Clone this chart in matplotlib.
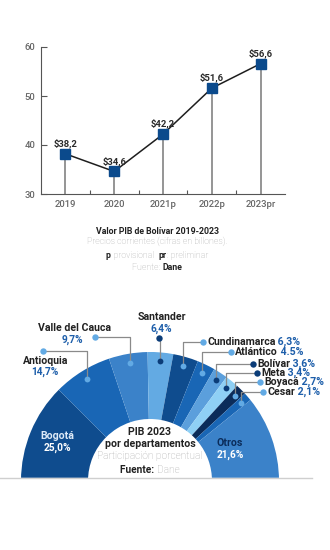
import matplotlib
matplotlib.use("Agg")
import matplotlib.pyplot as plt
import numpy as np

plt.rcParams['font.family'] = ['Roboto', 'DejaVu Sans']

# ---------------- data ----------------
years = ["2019", "2020", "2021p", "2022p", "2023pr"]
pib = [38.2, 34.6, 42.2, 51.6, 56.6]
pib_labels = ["$38,2", "$34,6", "$42,2", "$51,6", "$56,6"]

depts = ["Bogotá", "Antioquia", "Valle del Cauca", "Santander", "Cundinamarca",
         "Atlántico", "Bolívar", "Meta", "Boyacá", "Cesar", "Otros"]
shares = [25.0, 14.7, 9.7, 6.4, 6.3, 4.5, 3.6, 3.4, 2.7, 2.1, 21.6]
share_labels = ["25,0%", "14,7%", "9,7%", "6,4%", "6,3%", "4.5%", "3,6%",
                "3,4%", "2,7%", "2,1%", "21,6%"]

slice_colors = ['#0f4c8e', '#1966b5', '#3b82c9', '#63aae3', '#0f4c8e', '#1966b5',
                '#5b9fdc', '#8fd0f5', '#0b2c5a', '#1966b5', '#3b82c9']
LIGHT_DOT = '#62aae4'
DARK_DOT = '#0b3c78'
dot_colors = [None, LIGHT_DOT, LIGHT_DOT, DARK_DOT, LIGHT_DOT, LIGHT_DOT,
              DARK_DOT, DARK_DOT, LIGHT_DOT, LIGHT_DOT, None]

W, H = 330, 550
fig = plt.figure(figsize=(W / 100, H / 100), dpi=100)
fig.patch.set_facecolor('white')

# ---------------- line chart ----------------
ax = fig.add_axes([41 / W, (H - 194) / H, (285 - 41) / W, (194 - 47) / H])
x = np.arange(len(years))
ax.vlines(x, 30, pib, color='#8c8c8c', lw=1.3, zorder=1)
ax.plot(x, pib, color='#1e1e1e', lw=1.1, zorder=2)
ax.plot(x, pib, 's', ms=7.5, color='#0b4a8c', zorder=3)
for xi, v, lab in zip(x, pib, pib_labels):
    ax.annotate(lab, (xi, v), xytext=(0, 7.5), textcoords='offset points',
                ha='center', va='center', fontsize=6.8, fontweight='bold',
                color='#2a2a2a')
ax.set_xlim(-0.5, 4.5)
ax.set_ylim(30, 60)
ax.set_yticks([30, 40, 50, 60])
ax.set_xticks(x)
ax.set_xticklabels(years)
ax.set_xticks(np.arange(0.5, 4.0, 1.0), minor=True)
ax.tick_params(axis='y', direction='in', length=4, width=0.8, color='#555',
               labelsize=6.8, labelcolor='#666', pad=4)
ax.tick_params(axis='x', which='major', length=0, labelsize=6.8,
               labelcolor='#666', pad=4)
ax.tick_params(axis='x', which='minor', direction='in', length=3, width=0.8,
               color='#555')
for lab in ax.get_xticklabels() + ax.get_yticklabels():
    lab.set_fontweight('medium')
for s in ['top', 'right']:
    ax.spines[s].set_visible(False)
for s in ['left', 'bottom']:
    ax.spines[s].set_color('#555')
    ax.spines[s].set_linewidth(0.8)

# ---------------- overlay (pixel coords, y up) ----------------
ov = fig.add_axes([0, 0, 1, 1])
ov.set_zorder(5)


def P(y):
    return H - y


cx, cy = 150, 481
R, w = 129, 67
wedges, _ = ov.pie(shares + [sum(shares)], radius=R, center=(cx, P(cy)),
                   startangle=180, counterclock=False,
                   colors=slice_colors + ['none'],
                   wedgeprops=dict(width=w, edgecolor='none', linewidth=0))
wedges[-1].set_visible(False)
ov.set_xlim(0, W)
ov.set_ylim(0, H)
ov.set_aspect('auto')
ov.axis('off')

# cut the bottom of the donut
ov.add_patch(plt.Rectangle((0, 0), W, P(478), color='white', zorder=3))
ov.plot([0, 312], [P(478), P(478)], color='#cfcfcf', lw=1, zorder=4)

fig.canvas.draw()
renderer = fig.canvas.get_renderer()


def text_width(t, size, wgt):
    a = ov.text(0, 0, "x" + t + "x", fontsize=size, fontweight=wgt)
    b = ov.text(0, 0, "xx", fontsize=size, fontweight=wgt)
    wa = a.get_window_extent(renderer=renderer).width
    wb = b.get_window_extent(renderer=renderer).width
    a.remove()
    b.remove()
    return wa - wb


def pieces(xc, y, parts, size, ha='center'):
    """parts: list of (text, weight, color). Draw on one line."""
    widths = [text_width(t, size, wgt) for t, wgt, col in parts]
    total = sum(widths)
    x0 = xc - total / 2 if ha == 'center' else xc
    for (t, wgt, col), wd in zip(parts, widths):
        ov.text(x0, P(y), t, fontsize=size, fontweight=wgt, color=col,
                ha='left', va='center', zorder=6)
        x0 += wd


# captions under line chart
TXT = '#222222'
GR = '#a8a8a8'
pieces(157, 231, [("Valor PIB de Bolívar 2019-2023", 'bold', TXT)], 6.3)
pieces(157, 241, [("Precios corrientes (cifras en billones).", 'light', GR)], 6.3)
pieces(157, 256, [("p", 'bold', TXT), (": provisional  ", 'light', GR),
                  ("pr", 'bold', TXT), (": preliminar", 'light', GR)], 6.3)
pieces(157, 267, [("Fuente: ", 'light', GR), ("Dane", 'bold', TXT)], 6.3)

# donut center
pieces(cx, 432, [("PIB 2023", 'bold', TXT)], 7.6)
pieces(cx, 444, [("por departamentos", 'bold', TXT)], 7.6)
pieces(cx, 456, [("Participación porcentual", 'light', GR)], 7.3)
pieces(cx, 470, [("Fuente: ", 'bold', TXT), ("Dane", 'light', GR)], 7.3)

# inside labels
pieces(57, 436, [(depts[0], 'bold', '#dce9f7')], 7.6)
pieces(57, 448, [(share_labels[0], 'bold', 'white')], 7.3)
pieces(230, 443, [(depts[-1], 'bold', '#0b2c5a')], 7.6)
pieces(230, 455, [(share_labels[-1], 'bold', 'white')], 7.3)

# inner dots from data
cum = np.cumsum([0] + shares)
mid_angles = 180 - (cum[:-1] + np.array(shares) / 2) / 100 * 180
r_dot = R - 9
PCT = '#1d5eaa'
LEAD = '#8a8a8a'

# label dot positions (pixel) for the labelled slices
label_dots = {1: (43, 351), 2: (95, 337), 3: (159, 338), 4: (203, 342),
              5: (231, 352), 6: (253, 364), 7: (257, 373), 8: (260, 382),
              9: (263, 392)}

for i, (lx, ly) in label_dots.items():
    a = np.deg2rad(mid_angles[i])
    dx = cx + r_dot * np.cos(a)
    dy = P(cy) + r_dot * np.sin(a)
    ov.plot([lx, dx, dx], [P(ly), P(ly), dy], color=LEAD, lw=0.9, zorder=5)
    ov.plot([dx], [dy], 'o', ms=4.2, color=dot_colors[i], mec='none', zorder=6)
    ov.plot([lx], [P(ly)], 'o', ms=4.6, color=dot_colors[i], mec='none', zorder=6)

# left / top labels
pieces(46, 361, [(depts[1], 'bold', TXT)], 7.6)
pieces(45, 372, [(share_labels[1], 'bold', PCT)], 7.3)
pieces(75, 328, [(depts[2], 'bold', TXT)], 7.6)
pieces(72, 340, [(share_labels[2], 'bold', PCT)], 7.3)
pieces(162, 317, [(depts[3], 'bold', TXT)], 7.6)
pieces(161, 329, [(share_labels[3], 'bold', PCT)], 7.3)

# right labels
for i in range(4, 10):
    lx, ly = label_dots[i]
    pieces(lx + 4, ly, [(depts[i], 'bold', TXT), (" " + share_labels[i], 'bold', PCT)],
           7.6, ha='left')

fig.savefig("out.png", dpi=100, facecolor='white')
